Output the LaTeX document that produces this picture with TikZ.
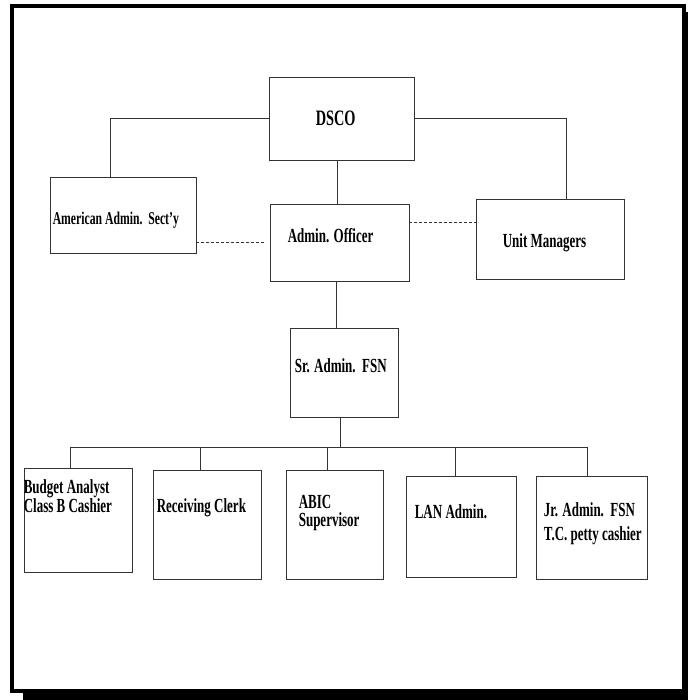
\documentclass[tikz,border=0pt]{standalone}
\usepackage{fontspec}
\setmainfont{Liberation Serif}[FakeStretch=0.65]
\usetikzlibrary{positioning}
\tikzset{
  box/.style={
    rectangle,draw=black!80,line width=0.8pt,fill=white,inner sep=0pt
  },
  lbl/.style={
    inner sep=0pt,align=left,font=\fontsize{20}{17}\selectfont\bfseries
  },
  link/.style={draw=black!80,line width=0.8pt},
  dotlink/.style={link,dash pattern=on 3pt off 2pt},
  pageframe/.style={draw=black,line width=4pt,fill=white}
}

\begin{document}
\begin{tikzpicture}[x=1pt,y=-1pt]
  \useasboundingbox (0,0) rectangle (688,700);
  % frame with shadow
  \fill[black] (23,12) rectangle (688,700);
  \draw[pageframe] (12,6) rectangle (684,691);

  \node[box,minimum width=145,minimum height=83] (dsco) at (341.5,118.5) {};
  \node[box,minimum width=146,minimum height=76] (american) at (123,215) {};
  \node[box,minimum width=139,minimum height=77] (admin) at (339.5,242.5) {};
  \node[box,minimum width=148,minimum height=80] (unit) at (550,239) {};
  \node[box,minimum width=108,minimum height=89] (sradmin) at (344,372.5) {};
  \node[box,minimum width=108,minimum height=104] (budget) at (78,520) {};
  \node[box,minimum width=108,minimum height=109] (receiving) at (207,524.5) {};
  \node[box,minimum width=97,minimum height=109] (abic) at (334.5,524.5) {};
  \node[box,minimum width=110,minimum height=101] (lan) at (461,526.5) {};
  \node[box,minimum width=111,minimum height=103] (jr) at (591.5,527.5) {};

  \node[lbl,anchor=base west,font=\fontsize{22}{17}\selectfont\bfseries]
    at ([shift={(47,49)}]dsco.north west) {DSCO};
  \node[lbl,anchor=base west,font=\fontsize{18}{17}\selectfont\bfseries]
    at ([shift={(3,48)}]american.north west) {American Admin.\ \ Sect'y};
  \node[lbl,anchor=base west] at ([shift={(18,39)}]admin.north west)
    {Admin. Officer};
  \node[lbl,anchor=base west] at ([shift={(27,49)}]unit.north west)
    {Unit Managers};
  \node[lbl,anchor=base west] at ([shift={(5,45)}]sradmin.north west)
    {Sr. Admin.\ \ FSN};
  \node[lbl,anchor=base west] at ([shift={(0,45)}]budget.north west)
    {Budget Analyst\\Class B Cashier};
  \node[lbl,anchor=base west] at ([shift={(4,43)}]receiving.north west)
    {Receiving Clerk};
  \node[lbl,anchor=base west,font=\fontsize{20}{18}\selectfont\bfseries]
    at ([shift={(13,57)}]abic.north west) {ABIC\\Supervisor};
  \node[lbl,anchor=base west] at ([shift={(9,43)}]lan.north west)
    {LAN Admin.};
  \node[lbl,anchor=base west,font=\fontsize{20}{24}\selectfont\bfseries]
    at ([shift={(8,65)}]jr.north west) {Jr. Admin.\ \ FSN\\T.C. petty cashier};

  % solid connectors
  \coordinate (bus) at (340,447);
  \coordinate (dd) at ([xshift=-4]dsco.south);
  \coordinate (ad) at ([xshift=-3]admin.south);
  \draw[link] (dsco.west) -| ([xshift=-13]american.north);
  \draw[link] (dsco.east) -| ([xshift=16]unit.north);
  \draw[link] (dd) -- (dd |- admin.north);
  \draw[link] (ad) -- (ad |- sradmin.north);
  \draw[link] ([xshift=-4]sradmin.south) -- (bus);
  \foreach \n/\dx in {budget/-8,receiving/-7,abic/-7.5,lan/-6,jr/-4.5}
    \draw[link] ([xshift=\dx]\n.north) |- (bus);

  % dotted staff links
  \coordinate (ao) at ([yshift=20]admin.east);
  \draw[dotlink] ([xshift=-6]admin.west) -- (american.east |- admin.west);
  \draw[dotlink] (ao) -- (ao -| unit.west);
\end{tikzpicture}
\end{document}
